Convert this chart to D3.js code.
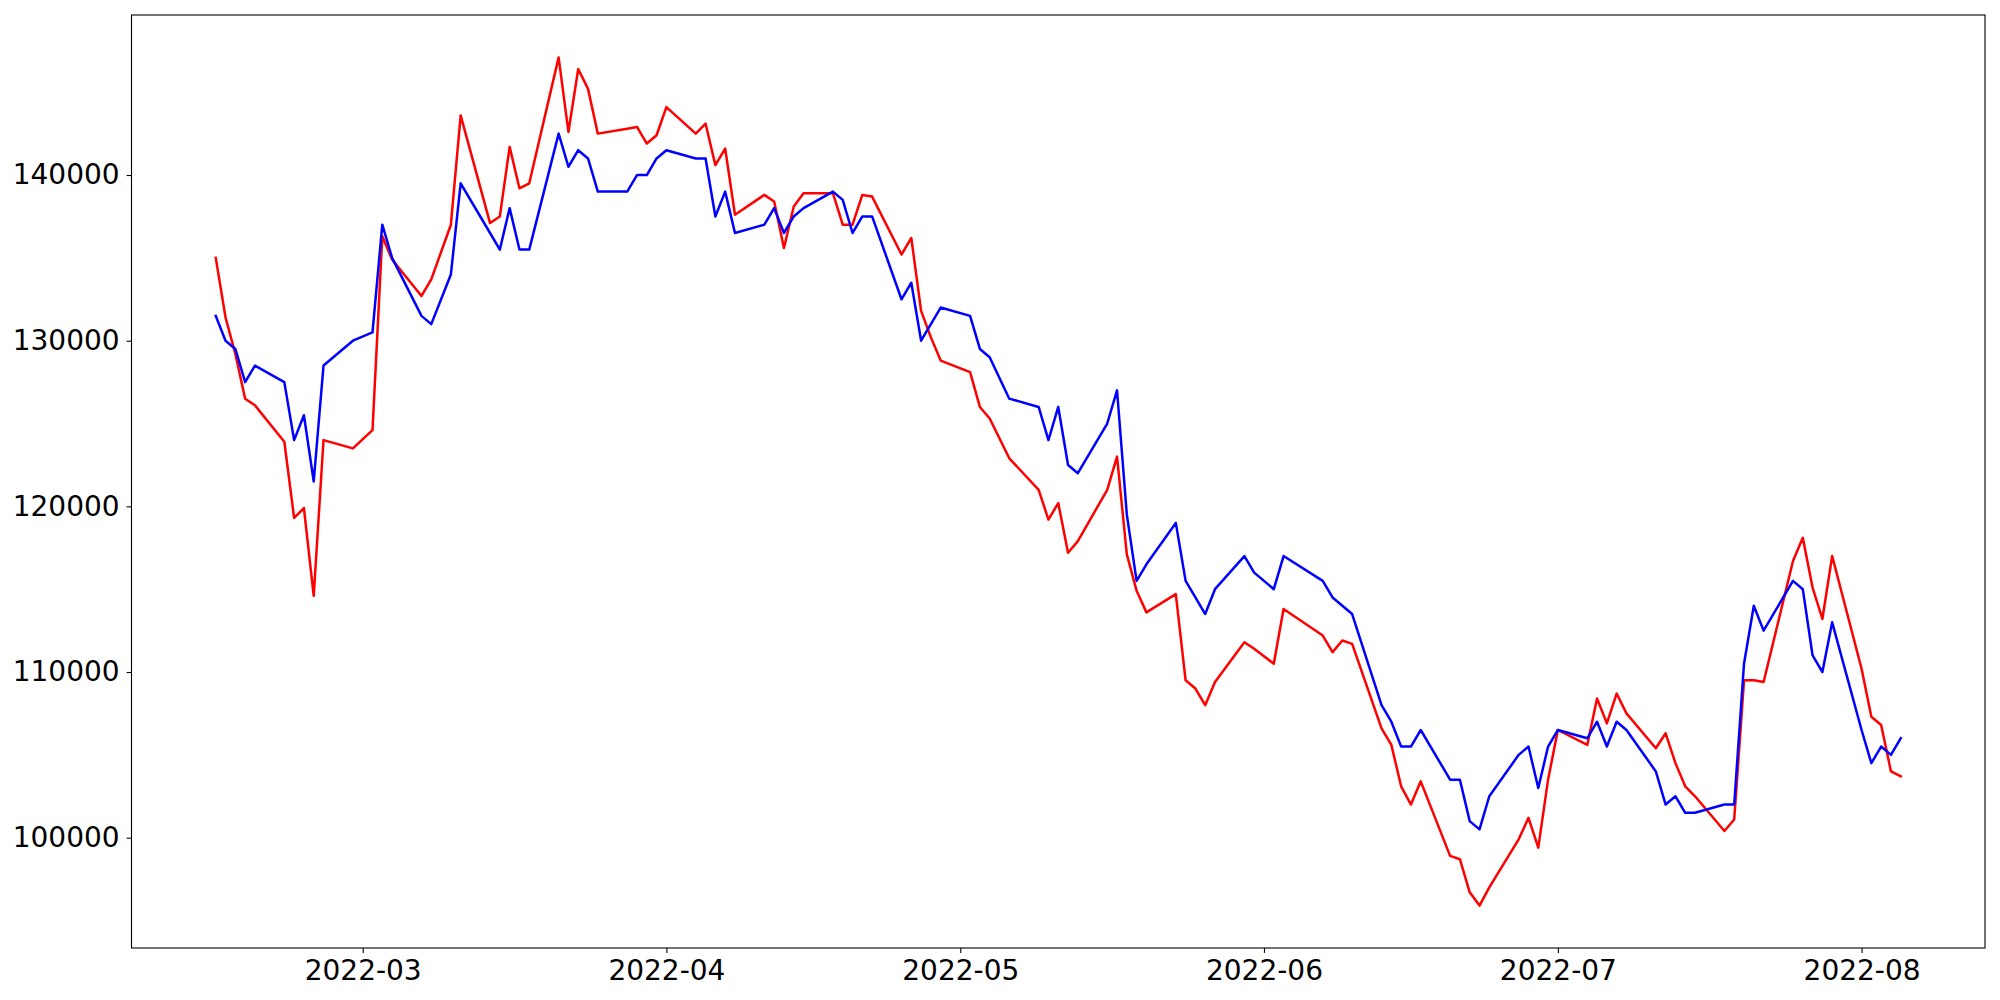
<!DOCTYPE html>
<html>
<head>
<meta charset="utf-8">
<script src="https://cdn.jsdelivr.net/npm/d3@7"></script>
<style>
  html, body { margin: 0; padding: 0; background: #ffffff; }
  svg { display: block; }
  text { font-family: "DejaVu Sans", sans-serif; }
</style>
</head>
<body>
<div id="chart"></div>
<script>
// ---- data (KRX trading days) ----
const dates = [
  "2022-02-14","2022-02-15","2022-02-16","2022-02-17","2022-02-18","2022-02-21","2022-02-22","2022-02-23","2022-02-24","2022-02-25","2022-02-28",
  "2022-03-02","2022-03-03","2022-03-04","2022-03-07","2022-03-08","2022-03-10","2022-03-11","2022-03-14","2022-03-15","2022-03-16","2022-03-17","2022-03-18","2022-03-21","2022-03-22","2022-03-23","2022-03-24","2022-03-25","2022-03-28","2022-03-29","2022-03-30","2022-03-31",
  "2022-04-01","2022-04-04","2022-04-05","2022-04-06","2022-04-07","2022-04-08","2022-04-11","2022-04-12","2022-04-13","2022-04-14","2022-04-15","2022-04-18","2022-04-19","2022-04-20","2022-04-21","2022-04-22","2022-04-25","2022-04-26","2022-04-27","2022-04-28","2022-04-29",
  "2022-05-02","2022-05-03","2022-05-04","2022-05-06","2022-05-09","2022-05-10","2022-05-11","2022-05-12","2022-05-13","2022-05-16","2022-05-17","2022-05-18","2022-05-19","2022-05-20","2022-05-23","2022-05-24","2022-05-25","2022-05-26","2022-05-27","2022-05-30","2022-05-31",
  "2022-06-02","2022-06-03","2022-06-07","2022-06-08","2022-06-09","2022-06-10","2022-06-13","2022-06-14","2022-06-15","2022-06-16","2022-06-17","2022-06-20","2022-06-21","2022-06-22","2022-06-23","2022-06-24","2022-06-27","2022-06-28","2022-06-29","2022-06-30",
  "2022-07-01","2022-07-04","2022-07-05","2022-07-06","2022-07-07","2022-07-08","2022-07-11","2022-07-12","2022-07-13","2022-07-14","2022-07-15","2022-07-18","2022-07-19","2022-07-20","2022-07-21","2022-07-22","2022-07-25","2022-07-26","2022-07-27","2022-07-28","2022-07-29",
  "2022-08-01","2022-08-02","2022-08-03","2022-08-04","2022-08-05"
];

const redValues = [
  135000,131400,129200,126500,126100,123900,119300,119900,114600,124000,123500,
  124600,136300,134900,132700,133700,137000,143600,137100,137500,141700,139200,139500,147100,142600,146400,145200,142500,142800,142900,141900,142400,
  144100,142500,143100,140600,141600,137600,138800,138400,135600,138100,138900,138900,137000,137000,138800,138700,135200,136200,131800,130200,128800,
  128100,126000,125300,122900,121000,119200,120200,117200,117900,121000,123000,117100,114900,113600,114700,109500,109000,108000,109400,111800,111400,
  110500,113800,112200,111200,111900,111700,106600,105600,103100,102000,103400,98900,98700,96700,95900,97000,99900,101200,99400,103500,
  106500,105600,108400,106900,108700,107500,105400,106300,104500,103100,102500,100400,101100,109500,109500,109400,116700,118100,115100,113200,117000,
  110200,107300,106800,104000,103700
];

const blueValues = [
  131500,130000,129500,127500,128500,127500,124000,125500,121500,128500,130000,
  130500,137000,135000,131500,131000,134000,139500,136500,135500,138000,135500,135500,142500,140500,141500,141000,139000,139000,140000,140000,141000,
  141500,141000,141000,137500,139000,136500,137000,138000,136500,137500,138000,139000,138500,136500,137500,137500,132500,133500,130000,131000,132000,
  131500,129500,129000,126500,126000,124000,126000,122500,122000,125000,127000,119500,115500,116500,119000,115500,114500,113500,115000,117000,116000,
  115000,117000,115500,114500,114000,113500,108000,107000,105500,105500,106500,103500,103500,101000,100500,102500,105000,105500,103000,105500,
  106500,106000,107000,105500,107000,106500,104000,102000,102500,101500,101500,102000,102000,110500,114000,112500,115500,115000,111000,110000,113000,
  106500,104500,105500,105000,106000
];

const yTickValues = [100000, 110000, 120000, 130000, 140000];
const xTickFormat = "%Y-%m";

(function () {
  // ---- layout ----
  const W = 2000, H = 1000;
  const mLeft = 131.5, mRight = 1985, mTop = 15, mBottom = 948;

  const parse = d3.timeParse("%Y-%m-%d");
  const xs = dates.map(parse);

  const svg = d3.select("#chart").append("svg")
    .attr("width", W).attr("height", H)
    .attr("viewBox", `0 0 ${W} ${H}`);

  svg.append("rect").attr("width", W).attr("height", H).attr("fill", "#ffffff");

  // matplotlib-like 5% margins
  const t0 = d3.min(xs), t1 = d3.max(xs);
  const tPad = (t1 - t0) * 0.05;
  const x = d3.scaleTime()
    .domain([new Date(+t0 - tPad), new Date(+t1 + tPad)])
    .range([mLeft, mRight]);

  const allV = redValues.concat(blueValues);
  const vMin = d3.min(allV), vMax = d3.max(allV);
  const vPad = (vMax - vMin) * 0.05;
  const y = d3.scaleLinear()
    .domain([vMin - vPad, vMax + vPad])
    .range([mBottom, mTop]);

  // lines
  const line = d3.line()
    .x((d, i) => x(xs[i]))
    .y(d => y(d));

  const plot = svg.append("g");
  plot.append("path")
    .datum(redValues)
    .attr("d", line)
    .attr("fill", "none")
    .attr("stroke", "#ff0000")
    .attr("stroke-width", 2.5)
    .attr("stroke-linejoin", "round")
    .attr("stroke-linecap", "square");

  plot.append("path")
    .datum(blueValues)
    .attr("d", line)
    .attr("fill", "none")
    .attr("stroke", "#0000ff")
    .attr("stroke-width", 2.5)
    .attr("stroke-linejoin", "round")
    .attr("stroke-linecap", "square");

  // axes
  const fontSize = "28px";
  const xAxis = d3.axisBottom(x)
    .ticks(d3.timeMonth.every(1))
    .tickFormat(d3.timeFormat(xTickFormat))
    .tickSize(4.9)
    .tickPadding(7);

  const gx = svg.append("g")
    .attr("transform", `translate(0,${mBottom})`)
    .call(xAxis);
  gx.select(".domain").remove();
  gx.selectAll(".tick line").attr("stroke", "#000").attr("stroke-width", 1.1);
  gx.selectAll(".tick text")
    .attr("fill", "#000")
    .style("font-family", "'DejaVu Sans', sans-serif")
    .style("font-size", fontSize);

  const yAxis = d3.axisLeft(y)
    .tickValues(yTickValues)
    .tickFormat(d3.format("d"))
    .tickSize(4.9)
    .tickPadding(7);

  const gy = svg.append("g")
    .attr("transform", `translate(${mLeft},0)`)
    .call(yAxis);
  gy.select(".domain").remove();
  gy.selectAll(".tick line").attr("stroke", "#000").attr("stroke-width", 1.1);
  gy.selectAll(".tick text")
    .attr("fill", "#000")
    .style("font-family", "'DejaVu Sans', sans-serif")
    .style("font-size", fontSize);

  // frame (spines)
  svg.append("rect")
    .attr("x", mLeft).attr("y", mTop)
    .attr("width", mRight - mLeft).attr("height", mBottom - mTop)
    .attr("fill", "none")
    .attr("stroke", "#000")
    .attr("stroke-width", 1.1);
})();
</script>
</body>
</html>
